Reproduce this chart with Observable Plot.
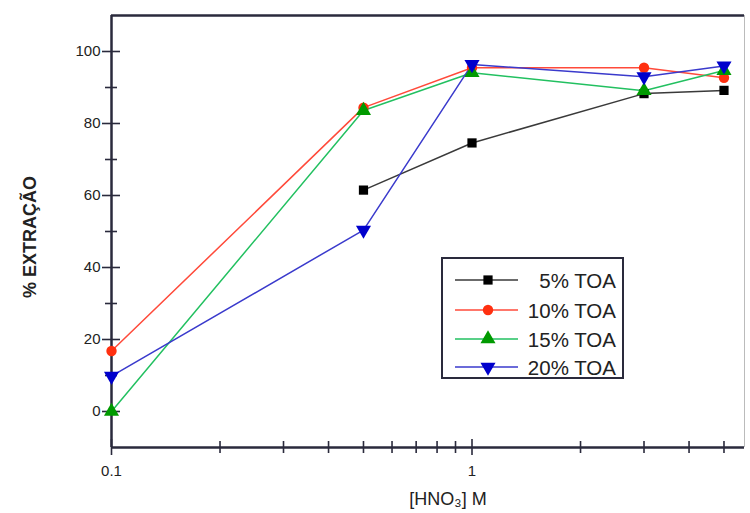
<!DOCTYPE html>
<html>
<head>
<meta charset="utf-8">
<script src="https://cdn.jsdelivr.net/npm/d3@7"></script>
<script src="https://cdn.jsdelivr.net/npm/@observablehq/plot@0.6"></script>
<style>
  html, body { margin: 0; padding: 0; background: #fff; }
  #chart { width: 750px; height: 513px; }
</style>
</head>
<body>
<div id="chart"></div>
<script>
// ---- data ----
const hno3 = [0.1, 0.5, 1, 3, 5];
const series = ["5% TOA", "10% TOA", "15% TOA", "20% TOA"];
const toa5  = [null, 61.5, 74.6, 88.3, 89.2];
const toa10 = [16.8, 84.4, 95.5, 95.5, 92.7];
const toa15 = [0.0, 83.6, 94.1, 89.1, 94.7];
const toa20 = [9.8, 50.4, 96.4, 93.0, 96.0];
const yTicks = [0, 20, 40, 60, 80, 100];
const yMinor = [10, 30, 50, 70, 90];
const xTicks = [0.1, 1];
const xTickLabels = ["0.1", "1"];
const xMinor = [0.2, 0.3, 0.4, 0.5, 0.6, 0.7, 0.8, 0.9, 2, 3, 4, 5];
const xLabel = "[HNO\u2083] M";
const yLabel = "% EXTRAÇÃO";

// ---- styles ----
const lineColors = ["#3a3a3a", "#ff4a3a", "#22c060", "#3a3acc"];
const dotColors  = ["#000000", "#ff3010", "#009a00", "#0000cc"];
const downTriangle = {
  draw(context, size) {
    const y = -Math.sqrt(size / (Math.sqrt(3) * 3));
    context.moveTo(0, -2 * y);
    context.lineTo(-Math.sqrt(3) * y, y);
    context.lineTo(Math.sqrt(3) * y, y);
    context.closePath();
  }
};
const symbols = ["square", "circle", "triangle", downTriangle];
const radii = [5.2, 5.2, 5.6, 5.6];

const allVals = [toa5, toa10, toa15, toa20];
const rows = series.map((s, i) =>
  hno3.map((x, j) => ({series: s, x, y: allVals[i][j]})).filter(d => d.y != null)
);

const axisColor = "#2a2a3c";
const font = "Liberation Sans, Arial, sans-serif";
const xMin = 0.1, xMax = 5.7, yMin = -10, yMax = 110;

const marks = [
  // frame
  Plot.ruleX([xMax], {stroke: "#bbbbbb", strokeWidth: 1}),
  Plot.ruleY([yMax], {stroke: axisColor, strokeWidth: 2.5}),
  Plot.ruleY([yMin], {stroke: axisColor, strokeWidth: 2.5}),
  Plot.ruleX([xMin], {stroke: axisColor, strokeWidth: 2.5}),
  // y ticks crossing the axis
  Plot.ruleY(yTicks, {x1: xMin, x2: xMin, insetLeft: -9, insetRight: -9, stroke: axisColor, strokeWidth: 1.6}),
  Plot.ruleY(yMinor, {x1: xMin, x2: xMin, insetLeft: -6, insetRight: -6, stroke: axisColor, strokeWidth: 1.6}),
  Plot.text(yTicks, {x: xMin, y: d => d, text: d => String(d), dx: -11, textAnchor: "end", fontSize: 15, fill: "#222"}),
  // x ticks crossing the axis
  Plot.ruleX(xTicks, {y1: yMin, y2: yMin, insetTop: -8, insetBottom: -8, stroke: axisColor, strokeWidth: 1.6}),
  Plot.ruleX(xMinor, {y1: yMin, y2: yMin, insetTop: -6, insetBottom: -6, stroke: axisColor, strokeWidth: 1.6}),
  Plot.text(xTicks, {x: d => d, y: yMin, text: (d, i) => xTickLabels[i], dy: 24, fontSize: 15, fill: "#222"}),
];

series.forEach((s, i) => {
  marks.push(Plot.line(rows[i], {x: "x", y: "y", stroke: lineColors[i], strokeWidth: 1.5}));
});
series.forEach((s, i) => {
  marks.push(Plot.dot(rows[i], {x: "x", y: "y", fill: dotColors[i], stroke: "none", symbol: symbols[i], r: radii[i]}));
});

const plot = Plot.plot({
  width: 750,
  height: 513,
  marginLeft: 111,
  marginRight: 6,
  marginTop: 15,
  marginBottom: 66,
  style: {fontFamily: font, background: "#fff", overflow: "visible"},
  x: {type: "log", domain: [xMin, xMax], axis: null},
  y: {domain: [yMin, yMax], axis: null},
  marks
});

// ---- axis titles and legend (added to the same svg) ----
const svg = d3.select(plot);
svg.append("text")
  .attr("x", 448).attr("y", 499)
  .attr("text-anchor", "middle").attr("dominant-baseline", "central")
  .attr("font-family", font).attr("font-size", 18).attr("fill", "#222")
  .text(xLabel);
svg.append("text")
  .attr("transform", "translate(30,237) rotate(-90)")
  .attr("text-anchor", "middle").attr("dominant-baseline", "central")
  .attr("font-family", font).attr("font-size", 18).attr("font-weight", "bold").attr("fill", "#222")
  .text(yLabel);

const lg = svg.append("g");
lg.append("rect")
  .attr("x", 442).attr("y", 258).attr("width", 181).attr("height", 120)
  .attr("fill", "#fff").attr("stroke", axisColor).attr("stroke-width", 2);
const ly = [280, 310, 339, 367];
series.forEach((s, i) => {
  lg.append("line")
    .attr("x1", 455).attr("x2", 518).attr("y1", ly[i]).attr("y2", ly[i])
    .attr("stroke", lineColors[i]).attr("stroke-width", 1.5);
  const sym = typeof symbols[i] === "string"
    ? {square: d3.symbolSquare, circle: d3.symbolCircle, triangle: d3.symbolTriangle}[symbols[i]]
    : symbols[i];
  lg.append("path")
    .attr("transform", `translate(488,${ly[i]})`)
    .attr("d", d3.symbol(sym, radii[i] * radii[i] * Math.PI)())
    .attr("fill", dotColors[i]);
  lg.append("text")
    .attr("x", 616).attr("y", ly[i])
    .attr("text-anchor", "end").attr("dominant-baseline", "central")
    .attr("font-family", font).attr("font-size", 20.5).attr("fill", "#222")
    .text(s);
});

document.getElementById("chart").appendChild(plot);
</script>
</body>
</html>
